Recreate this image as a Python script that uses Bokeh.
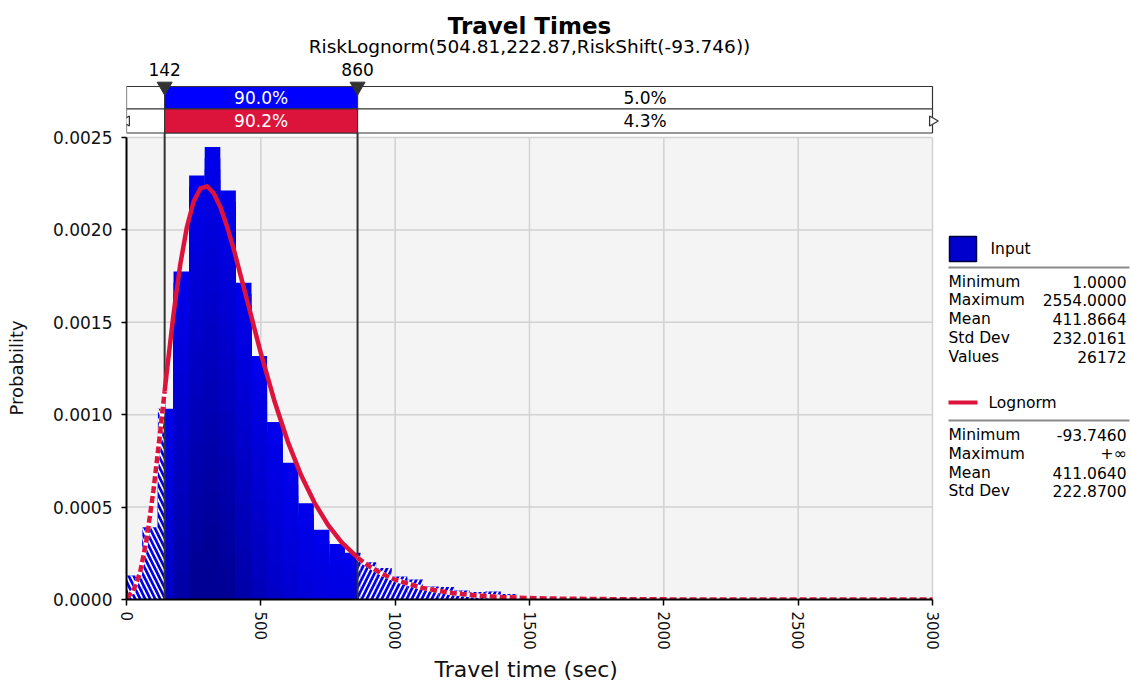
import numpy as np
from bokeh.plotting import figure
from bokeh.models import Range1d, FixedTicker, PrintfTickFormatter, Title
from bokeh.core.properties import value
from bokeh.embed import file_html
from bokeh.resources import INLINE

# ---------------- data ----------------
TITLE = "Travel Times"
SUBTITLE = "RiskLognorm(504.81,222.87,RiskShift(-93.746))"
X_LABEL = "Travel time (sec)"
Y_LABEL = "Probability"

X_TICKS = [0, 500, 1000, 1500, 2000, 2500, 3000]
Y_TICKS = [0.0, 0.0005, 0.0010, 0.0015, 0.0020, 0.0025]

# histogram of the simulated input (density per bin)
BIN_START = 1.0
BIN_WIDTH = 58.02
BIN_DENSITY = [
    0.000130, 0.000391, 0.001032, 0.001775, 0.002294, 0.002448, 0.002213,
    0.001714, 0.001317, 0.000960, 0.000740, 0.000521, 0.000377, 0.000301,
    0.000253, 0.000202, 0.000171, 0.000124, 0.000108, 0.000070, 0.000067,
    0.000049, 0.000040, 0.000043, 0.000030, 0.000018, 0.000012, 0.000009,
    0.000007, 0.000005, 0.000004, 0.000003, 0.000003, 0.000002, 0.000002,
    0.0000015, 0.0000012, 0.0000010, 0.0000008, 0.0000006, 0.0000005,
    0.0000004, 0.0000003, 0.0000003,
]

# fitted lognormal density
CURVE_X = [0, 25, 50, 75, 100, 125, 142, 150, 175, 200, 225, 250, 275, 300,
           325, 350, 375, 400, 450, 500, 550, 600, 650, 700, 750, 800, 860,
           900, 950, 1000, 1100, 1200, 1300, 1400, 1500, 1600, 1800, 2000,
           2250, 2500, 2750, 3000]
CURVE_Y = [0.000008, 0.000045, 0.000143, 0.000325, 0.000587, 0.000901,
           0.001127, 0.001232, 0.001544, 0.001812, 0.002017, 0.002153,
           0.002224, 0.002236, 0.002198, 0.002121, 0.002016, 0.001891,
           0.001613, 0.001333, 0.001077, 0.000856, 0.000672, 0.000523,
           0.000404, 0.000311, 0.000226, 0.000183, 0.000140, 0.000107,
           0.0000629, 0.0000371, 0.0000220, 0.0000132, 0.0000080,
           0.0000049, 0.0000019, 0.0000007, 0.0000003, 0.0000001,
           0.00000005, 0.00000002]

DELIM_LOW, DELIM_HIGH = 142, 860
INPUT_MID_PCT, INPUT_RIGHT_PCT = "90.0%", "5.0%"
FIT_MID_PCT, FIT_RIGHT_PCT = "90.2%", "4.3%"

INPUT_NAME = "Input"
INPUT_STAT_NAMES = ["Minimum", "Maximum", "Mean", "Std Dev", "Values"]
INPUT_STAT_VALUES = ["1.0000", "2554.0000", "411.8664", "232.0161", "26172"]
FIT_NAME = "Lognorm"
FIT_STAT_NAMES = ["Minimum", "Maximum", "Mean", "Std Dev"]
FIT_STAT_VALUES = ["-93.7460", "+\u221e", "411.0640", "222.8700"]

# ---------------- styling / layout ----------------
W, H = 1131, 683
FRAME_L = 126          # left edge of plotting frame (canvas px)
PLOT_R = 932           # canvas px of x = X_TICKS[-1]
FRAME_B = 599          # canvas px of y = 0
PLOT_T = 137           # canvas px of y = Y_TICKS[-1]
FONT_NAME = "DejaVu Sans"
FONT = value(FONT_NAME)
BLUE = "#0000FF"
RED = "#DC143C"
BG = "#F4F4F4"
GRID = "#D2D2D2"

x_max = X_TICKS[-1]
y_max = Y_TICKS[-1]
x_end = x_max * (W - FRAME_L) / (PLOT_R - FRAME_L)
y_end = y_max * FRAME_B / (FRAME_B - PLOT_T)

p = figure(width=W, height=H, output_backend="svg", toolbar_location=None,
           tools="", x_range=Range1d(0, x_end), y_range=Range1d(0, y_end),
           min_border_left=FRAME_L, min_border_right=0, min_border_top=0,
           min_border_bottom=H - FRAME_B)
p.extra_x_ranges = {"px": Range1d(FRAME_L, W)}
p.extra_y_ranges = {"px": Range1d(FRAME_B, 0)}
p.outline_line_color = None
p.background_fill_color = "white"
p.border_fill_color = "white"
p.xgrid.visible = False
p.ygrid.visible = False

# axes
for ax in (p.xaxis, p.yaxis):
    ax.axis_line_color = "black"
    ax.axis_line_width = 2
    ax.major_tick_line_color = "black"
    ax.major_tick_line_width = 1.5
    ax.major_tick_in = 0
    ax.minor_tick_line_color = None
    ax.major_label_text_font = FONT_NAME
    ax.major_label_text_color = "#111111"
p.xaxis.bounds = (X_TICKS[0], X_TICKS[-1])
p.yaxis.bounds = (Y_TICKS[0], Y_TICKS[-1])
p.xaxis.ticker = FixedTicker(ticks=X_TICKS)
p.yaxis.ticker = FixedTicker(ticks=Y_TICKS)
p.yaxis.formatter = PrintfTickFormatter(format="%.4f")
p.xaxis.major_label_orientation = "vertical"
p.xaxis.major_tick_out = 6
p.yaxis.major_tick_out = 5
p.xaxis.major_label_standoff = 6
p.yaxis.major_label_standoff = 9
p.xaxis.major_label_text_font_size = "15px"
p.yaxis.major_label_text_font_size = "17px"
# blank spacer label keeps the side title clear of the tick labels
p.yaxis.axis_label = " "
p.yaxis.axis_label_standoff = 16
p.yaxis.axis_label_text_font_size = "2px"

# axis titles, placed as side titles so they sit outside the frame
p.add_layout(Title(text=X_LABEL, align="left", offset=308, standoff=4,
                   text_font=FONT_NAME, text_font_size="22px",
                   text_font_style="normal", text_color="#111111"), "below")
p.add_layout(Title(text=Y_LABEL, align="left", offset=184, standoff=4,
                   text_font=FONT_NAME, text_font_size="18px",
                   text_font_style="normal", text_color="#111111"), "left")

# plot-area background and grid
p.quad(left=[X_TICKS[0]], right=[X_TICKS[-1]], bottom=[Y_TICKS[0]],
       top=[Y_TICKS[-1]], fill_color=BG, line_color=None)
p.segment(x0=X_TICKS[1:], x1=X_TICKS[1:], y0=[Y_TICKS[0]] * (len(X_TICKS) - 1),
          y1=[Y_TICKS[-1]] * (len(X_TICKS) - 1), line_color=GRID, line_width=1.5)
p.segment(x0=[X_TICKS[0]] * (len(Y_TICKS) - 1), x1=[X_TICKS[-1]] * (len(Y_TICKS) - 1),
          y0=Y_TICKS[1:], y1=Y_TICKS[1:], line_color=GRID, line_width=1.5)

# histogram bars, shaded from bright at the top to dark further down;
# each shading band runs down to zero and is painted over by the next one
dens = np.array(BIN_DENSITY)
edges = BIN_START + BIN_WIDTH * np.arange(len(dens) + 1)
lefts, rights = edges[:-1], edges[1:]
BAND = 0.00006          # height of one shading band (data units)
FADE = 0.0022           # depth over which the shading reaches its darkest
TOP_RGB = np.array([0, 0, 238])
BOT_RGB = np.array([0, 0, 148])
bl, br, bt, bc = [], [], [], []
for l, r, d in zip(lefts, rights, dens):
    top = d
    while top > 0:
        bot = max(0.0, top - BAND)
        t = min(1.0, (d - (top + bot) / 2) / FADE)
        rgb = (TOP_RGB * (1 - t) + BOT_RGB * t).astype(int)
        bl.append(l)
        br.append(r)
        bt.append(top)
        bc.append("#%02x%02x%02x" % tuple(rgb))
        top = bot
p.quad(left=bl, right=br, bottom=[0.0] * len(bt), top=bt, fill_color=bc,
       line_color=None)

# hatching of the bars outside the delimited range
lo = lefts < DELIM_LOW
p.quad(left=lefts[lo], right=np.minimum(rights[lo], DELIM_LOW),
       bottom=np.zeros(lo.sum()), top=dens[lo], fill_alpha=0, line_color=None,
       hatch_pattern="\\", hatch_color="white", hatch_scale=10, hatch_weight=1.7)
hi = rights > DELIM_HIGH
p.quad(left=np.maximum(lefts[hi], DELIM_HIGH), right=rights[hi],
       bottom=np.zeros(hi.sum()), top=dens[hi], fill_alpha=0, line_color=None,
       hatch_pattern="/", hatch_color="white", hatch_scale=10, hatch_weight=1.7)

# delimiter lines
delims = [DELIM_LOW, DELIM_HIGH]
p.segment(x0=delims, x1=delims, y0=[FRAME_B] * 2, y1=[86] * 2,
          y_range_name="px", line_color="#333333", line_width=2)

# fitted curve: solid inside the delimiters, dashed outside
cx = np.array(CURVE_X, dtype=float)
cy = np.array(CURVE_Y)
mid = (cx >= DELIM_LOW) & (cx <= DELIM_HIGH)
p.line(cx[mid], cy[mid], line_color=RED, line_width=4.5, line_join="round")
for m in (cx <= DELIM_LOW, cx >= DELIM_HIGH):
    p.line(cx[m], cy[m], line_color="white", line_width=4.5, line_join="round")
    p.line(cx[m], cy[m], line_color=RED, line_width=4.5, line_dash="7 3",
           line_join="round")

# delimiter bars above the plot
ROW1 = (86, 108.5)
ROW2 = (108.5, 132.5)
for (ytop, ybot), fill in ((ROW1, BLUE), (ROW2, RED)):
    p.quad(left=[X_TICKS[0]], right=[X_TICKS[-1]], top=[ytop], bottom=[ybot],
           y_range_name="px", fill_color="white", line_color="#333333",
           line_width=1.2)
    p.quad(left=[DELIM_LOW], right=[DELIM_HIGH], top=[ytop], bottom=[ybot],
           y_range_name="px", fill_color=fill, line_color="#333333",
           line_width=1.2)
mid_x = (DELIM_LOW + DELIM_HIGH) / 2
right_x = (DELIM_HIGH + X_TICKS[-1]) / 2
p.text(x=[mid_x, right_x, mid_x, right_x],
       y=[sum(ROW1) / 2] * 2 + [sum(ROW2) / 2] * 2, y_range_name="px",
       text=[INPUT_MID_PCT, INPUT_RIGHT_PCT, FIT_MID_PCT, FIT_RIGHT_PCT],
       text_color=["white", "black", "white", "black"], text_align="center",
       text_baseline="middle", text_font=FONT, text_font_size="17px")
# open-ended arrows on the fitted row
p.scatter(x=[X_TICKS[0], X_TICKS[-1]], y=[sum(ROW2) / 2] * 2, y_range_name="px",
          marker="triangle", angle=[np.pi / 2, -np.pi / 2], size=10,
          fill_color="white", line_color="#333333", line_width=1.2)
p.scatter(x=delims, y=[86, 86], y_range_name="px", marker="inverted_triangle",
          size=15, fill_color="#333333", line_color="#333333")
p.text(x=delims, y=[69, 69], y_range_name="px", text=[str(v) for v in delims],
       text_align="center", text_baseline="middle", text_font=FONT,
       text_font_size="17px", text_color="black")

# titles
p.text(x=[x_max / 2], y=[25], y_range_name="px", text=[TITLE],
       text_align="center", text_baseline="alphabetic", text_font=FONT,
       text_font_size="23px", text_font_style="bold", text_color="black")
p.text(x=[x_max / 2], y=[46], y_range_name="px", text=[SUBTITLE],
       text_align="center", text_baseline="alphabetic", text_font=FONT,
       text_font_size="18.5px", text_color="black")

# legend with statistics
LX0, LX1 = 948, 1126
p.quad(left=[949], right=[976], top=[236], bottom=[261], x_range_name="px",
       y_range_name="px", fill_color="#0000CC", line_color="#000040",
       line_width=1.5)
p.segment(x0=[948], x1=[977], y0=[402], y1=[402], x_range_name="px",
          y_range_name="px", line_color=RED, line_width=4)
p.text(x=[990, 988], y=[248.5, 402], x_range_name="px", y_range_name="px",
       text=[INPUT_NAME, FIT_NAME], text_baseline="middle", text_font=FONT,
       text_font_size="15.5px", text_color="black")
p.segment(x0=[LX0, LX0], x1=[1129, 1129], y0=[267, 420], y1=[267, 420],
          x_range_name="px", y_range_name="px", line_color="#8A8A8A",
          line_width=2)
in_y = [281 + 18.75 * i for i in range(len(INPUT_STAT_NAMES))]
fit_y = [434.5 + 18.75 * i for i in range(len(FIT_STAT_NAMES))]
p.text(x=[LX0] * (len(in_y) + len(fit_y)), y=in_y + fit_y, x_range_name="px",
       y_range_name="px", text=INPUT_STAT_NAMES + FIT_STAT_NAMES,
       text_baseline="middle", text_font=FONT, text_font_size="15.5px",
       text_color="black")
p.text(x=[LX1] * (len(in_y) + len(fit_y)), y=in_y + fit_y, x_range_name="px",
       y_range_name="px", text=INPUT_STAT_VALUES + FIT_STAT_VALUES,
       text_align="right", text_baseline="middle", text_font=FONT,
       text_font_size="15.5px", text_color="black")

open("out.html", "w").write(file_html(p, INLINE))
